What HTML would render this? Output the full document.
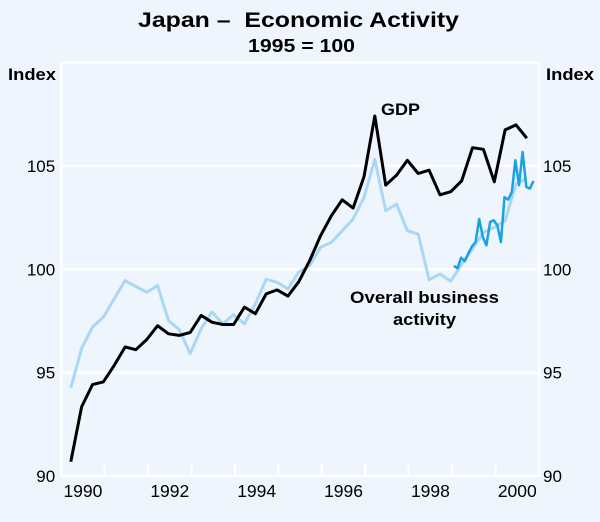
<!DOCTYPE html>
<html><head><meta charset="utf-8"><style>
body{margin:0;background:#eef5fc;}
svg{display:block;font-family:"Liberation Sans",Arial,sans-serif;}
</style></head><body>
<svg id="chart" width="600" height="522" viewBox="0 0 600 522">
<rect width="600" height="522" fill="#eef5fc"/>
<text x="138" y="27" font-size="21" font-weight="bold" textLength="321" lengthAdjust="spacingAndGlyphs" xml:space="preserve">Japan –  Economic Activity</text>
<text x="248" y="52" font-size="18" font-weight="bold" textLength="107" lengthAdjust="spacingAndGlyphs">1995 = 100</text>
<text x="8" y="80" font-size="17" font-weight="bold" textLength="48" lengthAdjust="spacingAndGlyphs">Index</text>
<text x="546" y="80" font-size="17" font-weight="bold" textLength="48" lengthAdjust="spacingAndGlyphs">Index</text>
<g id="grid"></g>
<g id="series"></g>
<text x="381" y="115" font-size="17" font-weight="bold" textLength="39" lengthAdjust="spacingAndGlyphs">GDP</text>
<text x="350" y="303" font-size="17" font-weight="bold" textLength="149" lengthAdjust="spacingAndGlyphs">Overall business</text>
<text x="393" y="325" font-size="17" font-weight="bold" textLength="63" lengthAdjust="spacingAndGlyphs">activity</text>
</svg>
<script>
const yTicks=[90,95,100,105];
const xYears=[1990,1992,1994,1996,1998,2000];
const gdp=[90.69,93.34,94.42,94.55,95.35,96.24,96.11,96.6,97.27,96.88,96.8,96.94,97.77,97.44,97.33,97.33,98.17,97.85,98.81,99.0,98.7,99.4,100.42,101.62,102.59,103.36,102.96,104.47,107.41,104.07,104.55,105.27,104.63,104.79,103.6,103.75,104.28,105.88,105.8,104.23,106.74,106.98,106.34];
const bizQuarterly=[94.26,96.16,97.2,97.68,98.57,99.45,99.16,98.89,99.21,97.52,97.07,95.92,97.12,97.93,97.36,97.8,97.36,98.33,99.52,99.37,99.05,99.86,100.18,101.06,101.3,101.86,102.43,103.47,105.32,102.83,103.15,101.86,101.7,99.49,99.77,99.42,100.26,100.98,101.78,102.03,102.35,104.12,104.4];
const bizMonthly=[100.16,100.05,100.56,100.39,100.76,101.11,101.32,102.43,101.56,101.16,102.29,102.37,102.13,101.32,103.49,103.37,103.73,105.27,104.06,105.67,103.98,103.9,104.27];
const quarterStart=1990.22, monthStart=1999.04;
const L=61.2,R=539,T=62.5,B=476;
const X=t=>L+(t-1990)*(R-L)/11;
const Y=v=>B-(v-90)*(B-T)/20;
const NS='http://www.w3.org/2000/svg';
const grid=document.getElementById('grid'), ser=document.getElementById('series');
function mk(tag,attrs,parent){const e=document.createElementNS(NS,tag);for(const k in attrs)e.setAttribute(k,attrs[k]);parent.appendChild(e);return e;}
let f=mk('path',{d:`M${L},${B}V${T}H${R}V${B}`,fill:'none',stroke:'#fff','stroke-width':2.5},grid);


yTicks.forEach(v=>{
 const g=mk('line',{x1:L,x2:R,y1:Y(v),y2:Y(v),stroke:'#fff','stroke-width':2.5},grid);
 
 
 const a=mk('text',{x:L-6,y:Y(v)+6,'text-anchor':'end','font-size':17},grid);a.textContent=v;
 
 
 const b=mk('text',{x:R+4,y:Y(v)+6,'font-size':17},grid);b.textContent=v;
 
 
});
for(let y=1991;y<=2000;y++){
 const t=mk('line',{x1:X(y),x2:X(y),y1:B,y2:B-13,stroke:'#fff','stroke-width':2.5},grid);
 
 
}
xYears.forEach(y=>{
 const t=mk('text',{x:X(y+0.5),y:B+21,'text-anchor':'middle','font-size':17.5},grid);t.textContent=y;
 
 
});
function line(vals,start,step,color,w,name){
 const d=vals.map((v,i)=>(i?'L':'M')+X(start+i*step).toFixed(1)+','+Y(v).toFixed(1)).join('');
 const p=mk('path',{d:d,fill:'none',stroke:color,'stroke-width':w,'stroke-linejoin':'round'},ser);
 
 
}
line(bizQuarterly,quarterStart,0.25,'#a9d8f4',3,'business-activity-quarterly-line');
line(bizMonthly,monthStart,1/12,'#1aa2e2',2.5,'business-activity-monthly-line');
line(gdp,quarterStart,0.25,'#000',3,'gdp-line');
</script>
</body></html>
